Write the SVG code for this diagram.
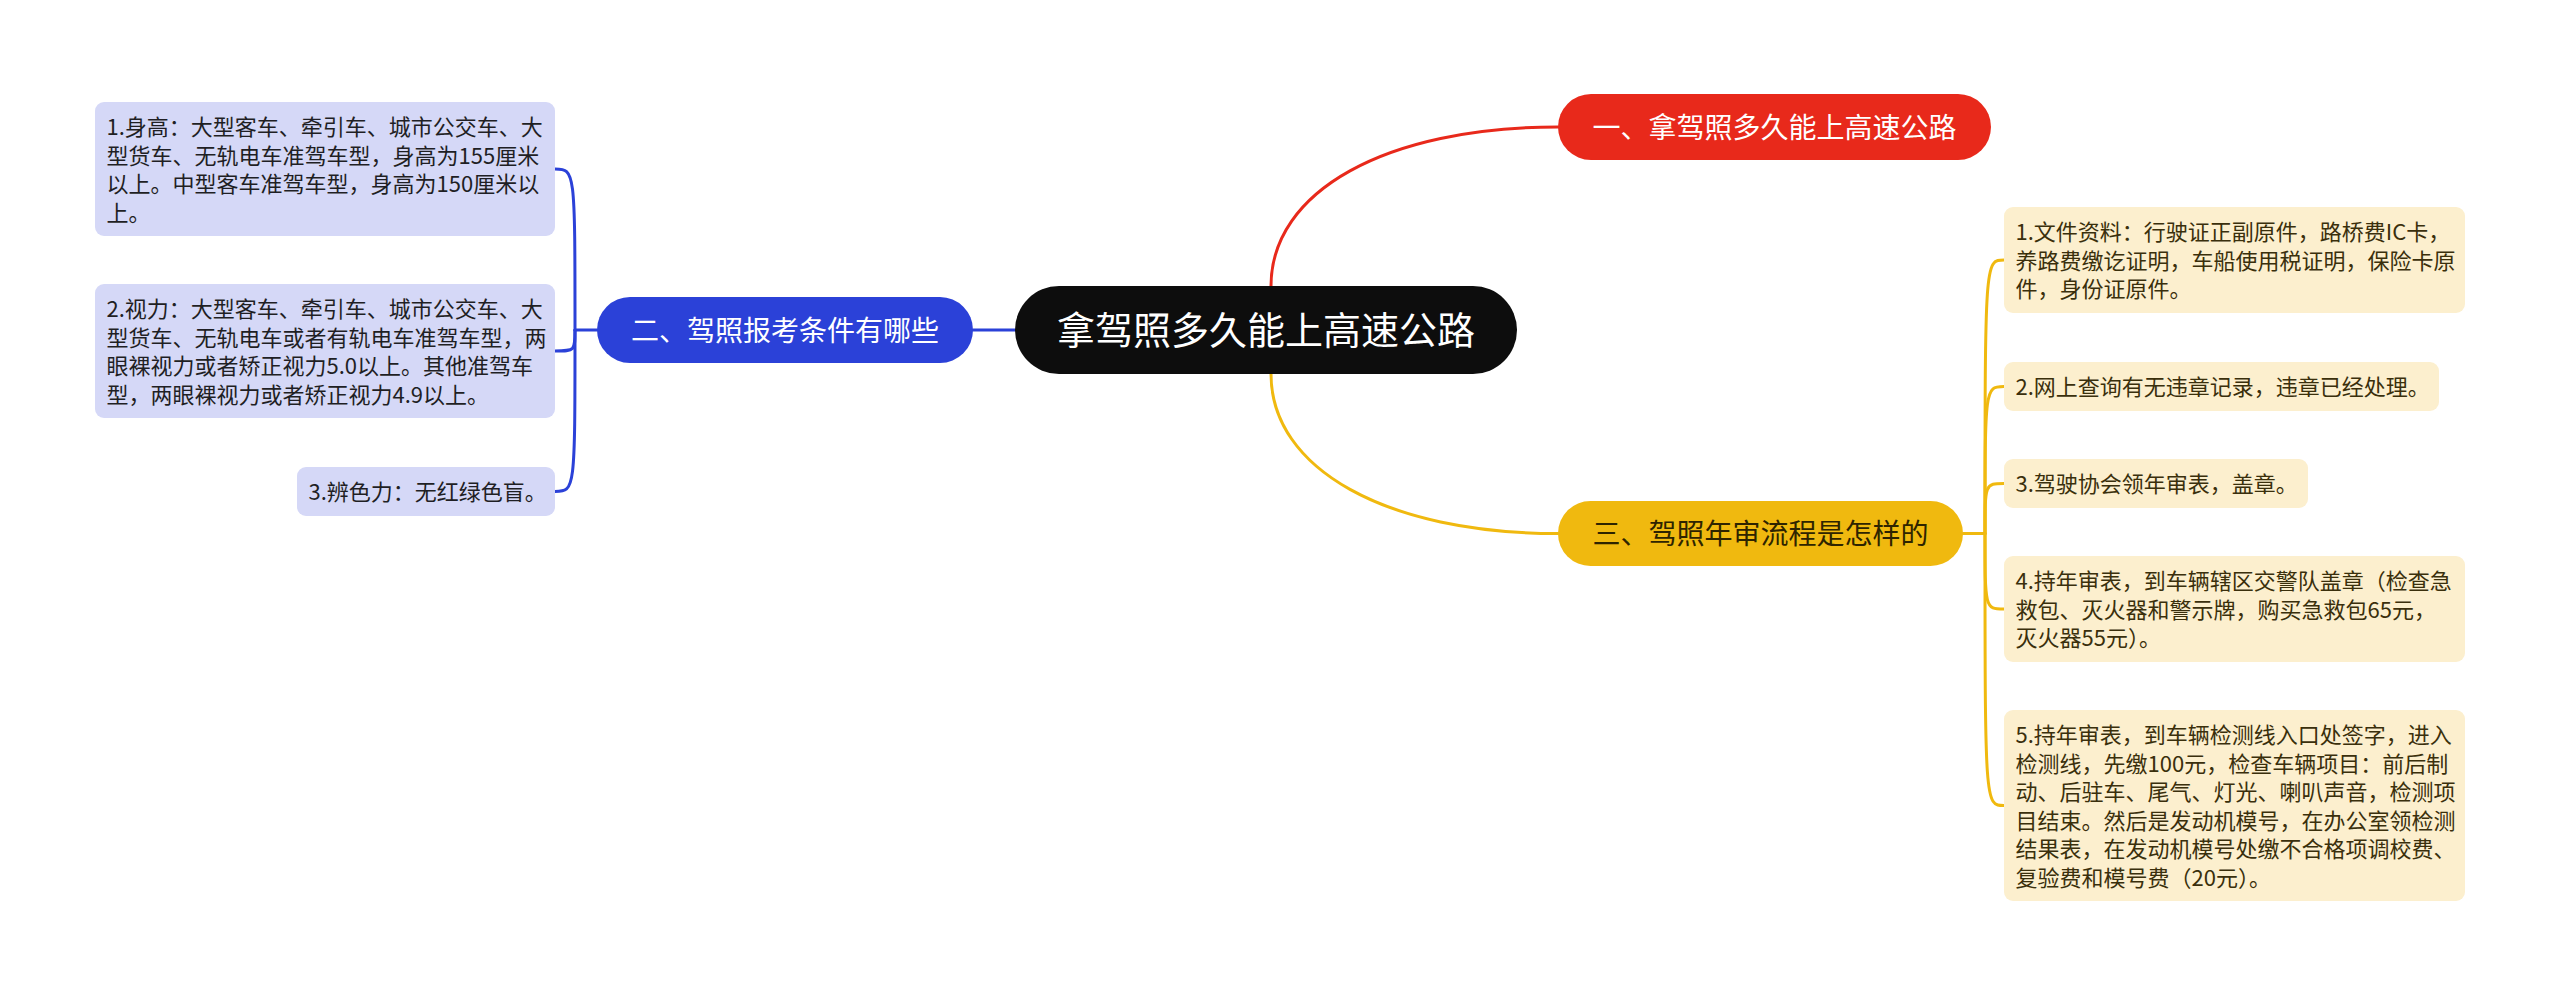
<svg xmlns="http://www.w3.org/2000/svg" width="2560" height="996" viewBox="0 0 2560 996">
<style>
text{font-family:"Noto Sans CJK SC","Noto Sans",sans-serif}
.c{fill:none;stroke-width:3;stroke-linecap:round}
.cr{stroke:#e8291b}
.cb{stroke:#2b41d8}
.cy{stroke:#f0b90f}
.main{font-size:38px;fill:#ffffff;text-anchor:middle}
.sub{font-size:28px;text-anchor:middle}
.lb{fill:#d5d8f7}
.rb{fill:#fcefce}
.lt{font-size:22px;fill:#1f1f24}
.rt{font-size:22px;fill:#3a2f0c}
</style>
<rect width="2560" height="996" fill="#ffffff"/>
<g id="connectors">
<path class="c cr" d="M1271,286 C1271,191 1386,127 1558,127"/>
<path class="c cy" d="M1271,374 C1271,469 1386,533.5 1558,533.5"/>
<path class="c cb" d="M973,330 L1015,330"/>
<path class="c cb" d="M597,330 L575,330"/>
<path class="c cb" d="M575,330 C575,169 575,169 555,169"/>
<path class="c cb" d="M575,330 C575,351 575,351 555,351"/>
<path class="c cb" d="M575,330 C575,491.5 575,491.5 555,491.5"/>
<path class="c cy" d="M1963,533.5 L1985,533.5"/>
<path class="c cy" d="M1985,533.5 C1985,260 1985,260 2004,260"/>
<path class="c cy" d="M1985,533.5 C1985,386.5 1985,386.5 2004,386.5"/>
<path class="c cy" d="M1985,533.5 C1985,483.5 1985,483.5 2004,483.5"/>
<path class="c cy" d="M1985,533.5 C1985,609 1985,609 2004,609"/>
<path class="c cy" d="M1985,533.5 C1985,805.5 1985,805.5 2004,805.5"/>
</g>
<g id="root">
<rect x="1015" y="286" width="502" height="88" rx="44" fill="#0d0d0d"/>
<text class="main" x="1266" y="344">拿驾照多久能上高速公路</text>
</g>
<g id="n1">
<rect x="1558" y="94" width="433" height="66" rx="33" fill="#e8291b"/>
<text class="sub" x="1774.5" y="137.5" fill="#ffffff">一、拿驾照多久能上高速公路</text>
</g>
<g id="n2">
<rect x="597" y="297" width="376" height="66" rx="33" fill="#2b41d8"/>
<text class="sub" x="785" y="340.5" fill="#ffffff">二、驾照报考条件有哪些</text>
</g>
<g id="n3">
<rect x="1558" y="501" width="405" height="65" rx="32.5" fill="#f0b90f"/>
<text class="sub" x="1760.5" y="544" fill="#2e2400">三、驾照年审流程是怎样的</text>
</g>
<g id="l1">
<rect class="lb" x="95" y="102" width="460" height="134" rx="9"/>
<text class="lt"><tspan x="106.5" y="135">1.身高：大型客车、牵引车、城市公交车、大</tspan><tspan x="106.5" y="163.5">型货车、无轨电车准驾车型，身高为155厘米</tspan><tspan x="106.5" y="192">以上。中型客车准驾车型，身高为150厘米以</tspan><tspan x="106.5" y="220.5">上。</tspan></text>
</g>
<g id="l2">
<rect class="lb" x="95" y="284" width="460" height="134" rx="9"/>
<text class="lt"><tspan x="106.5" y="317">2.视力：大型客车、牵引车、城市公交车、大</tspan><tspan x="106.5" y="345.5">型货车、无轨电车或者有轨电车准驾车型，两</tspan><tspan x="106.5" y="374">眼裸视力或者矫正视力5.0以上。其他准驾车</tspan><tspan x="106.5" y="402.5">型，两眼裸视力或者矫正视力4.9以上。</tspan></text>
</g>
<g id="l3">
<rect class="lb" x="297" y="467" width="258" height="49" rx="9"/>
<text class="lt" x="308.5" y="500">3.辨色力：无红绿色盲。</text>
</g>
<g id="r1">
<rect class="rb" x="2004" y="207" width="461" height="106" rx="9"/>
<text class="rt"><tspan x="2015.5" y="240">1.文件资料：行驶证正副原件，路桥费IC卡，</tspan><tspan x="2015.5" y="268.5">养路费缴讫证明，车船使用税证明，保险卡原</tspan><tspan x="2015.5" y="297">件，身份证原件。</tspan></text>
</g>
<g id="r2">
<rect class="rb" x="2004" y="362" width="435" height="49" rx="9"/>
<text class="rt" x="2015.5" y="395">2.网上查询有无违章记录，违章已经处理。</text>
</g>
<g id="r3">
<rect class="rb" x="2004" y="459" width="304" height="49" rx="9"/>
<text class="rt" x="2015.5" y="492">3.驾驶协会领年审表，盖章。</text>
</g>
<g id="r4">
<rect class="rb" x="2004" y="556" width="461" height="106" rx="9"/>
<text class="rt"><tspan x="2015.5" y="589">4.持年审表，到车辆辖区交警队盖章（检查急</tspan><tspan x="2015.5" y="617.5">救包、灭火器和警示牌，购买急救包65元，</tspan><tspan x="2015.5" y="646">灭火器55元）。</tspan></text>
</g>
<g id="r5">
<rect class="rb" x="2004" y="710" width="461" height="191" rx="9"/>
<text class="rt"><tspan x="2015.5" y="743">5.持年审表，到车辆检测线入口处签字，进入</tspan><tspan x="2015.5" y="771.5">检测线，先缴100元，检查车辆项目：前后制</tspan><tspan x="2015.5" y="800">动、后驻车、尾气、灯光、喇叭声音，检测项</tspan><tspan x="2015.5" y="828.5">目结束。然后是发动机模号，在办公室领检测</tspan><tspan x="2015.5" y="857">结果表，在发动机模号处缴不合格项调校费、</tspan><tspan x="2015.5" y="885.5">复验费和模号费（20元）。</tspan></text>
</g>
</svg>
